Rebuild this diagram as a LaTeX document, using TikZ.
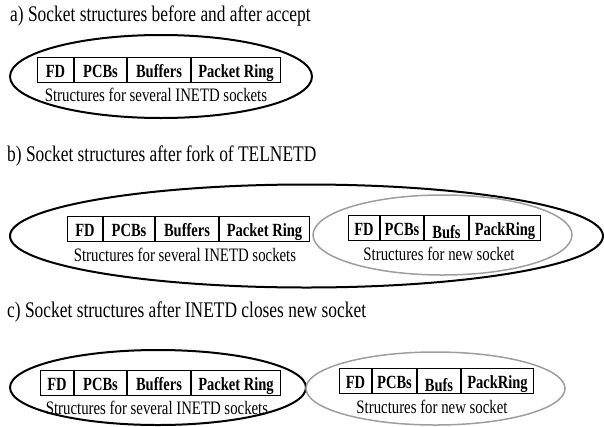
\documentclass[tikz,border=0pt]{standalone}
\usepackage{fontspec}
\setmainfont{Liberation Serif}[FakeStretch=0.78]
\usetikzlibrary{shapes.geometric}
\tikzset{
  titletext/.style={anchor=base west, inner sep=0pt, font=\fontsize{22.3}{26}\selectfont},
  captext/.style={anchor=base, inner sep=0pt, font=\fontsize{19}{22}\selectfont},
  cell/.style={draw, line width=1pt, anchor=north west, inner sep=0pt, minimum height=25pt,
    text height=15pt, text depth=0pt, font=\bfseries\fontsize{18.6}{22}\selectfont},
  lowcell/.style={cell, text height=21pt},
  blackell/.style={ellipse, draw, line width=2pt, inner sep=0pt},
  greyell/.style={ellipse, draw=black!38, line width=1.5pt, inner sep=0pt},
}
\begin{document}
\begin{tikzpicture}[x=1pt, y=-1pt]
\useasboundingbox (0,0) rectangle (604,426);

% ---- a)
\node[titletext] (ta) at (10,21) {a) Socket structures before and after accept};
\node[blackell, minimum width=302pt, minimum height=83pt] (ea) at (161,76.5) {};
\node[cell, minimum width=36pt] (a1) at (37,57) {FD};
\node[cell, minimum width=52pt] (a2) at (a1.north east) {PCBs};
\node[cell, minimum width=63pt] (a3) at (a2.north east) {Buffers};
\node[cell, minimum width=89pt] (a4) at (a3.north east) {Packet Ring};
\node[captext] (ca) at (156,101) {Structures for several INETD sockets};

% ---- b)
\node[titletext] (tb) at (7,161) {b) Socket structures after fork of TELNETD};
\node[blackell, minimum width=593pt, minimum height=103pt] (eb) at (306.5,236) {};
\node[greyell, minimum width=259pt, minimum height=80pt] (gb) at (442.5,235) {};
\node[cell, minimum width=35pt] (b1) at (67,216) {FD};
\node[cell, minimum width=51pt] (b2) at (b1.north east) {PCBs};
\node[cell, minimum width=63pt] (b3) at (b2.north east) {Buffers};
\node[cell, minimum width=90pt] (b4) at (b3.north east) {Packet Ring};
\node[captext] (cb) at (185,261) {Structures for several INETD sockets};
\node[cell, minimum width=31pt] (n1) at (348,215) {FD};
\node[cell, minimum width=43pt] (n2) at (n1.north east) {PCBs};
\node[lowcell, minimum width=44pt] (n3) at (n2.north east) {Bufs};
\node[cell, minimum width=71pt] (n4) at (n3.north east) {PackRing};
\node[captext] (cn) at (439,260) {Structures for new socket};

% ---- c)
\node[titletext] (tc) at (7,317) {c) Socket structures after INETD closes new socket};
\node[blackell, minimum width=296pt, minimum height=75pt] (ec) at (158,387.5) {};
\node[greyell, minimum width=259pt, minimum height=73pt] (gc) at (435.5,388.5) {};
\node[cell, minimum width=33pt] (c1) at (40,370) {FD};
\node[cell, minimum width=52pt] (c2) at (c1.north east) {PCBs};
\node[cell, minimum width=63pt] (c3) at (c2.north east) {Buffers};
\node[cell, minimum width=89pt] (c4) at (c3.north east) {Packet Ring};
\node[captext] (cc) at (157,414) {Structures for several INETD sockets};
\node[cell, minimum width=32pt] (m1) at (339,368) {FD};
\node[cell, minimum width=44pt] (m2) at (m1.north east) {PCBs};
\node[lowcell, minimum width=43pt] (m3) at (m2.north east) {Bufs};
\node[cell, minimum width=72pt] (m4) at (m3.north east) {PackRing};
\node[captext] (cm) at (432,413) {Structures for new socket};
\end{tikzpicture}
\end{document}
